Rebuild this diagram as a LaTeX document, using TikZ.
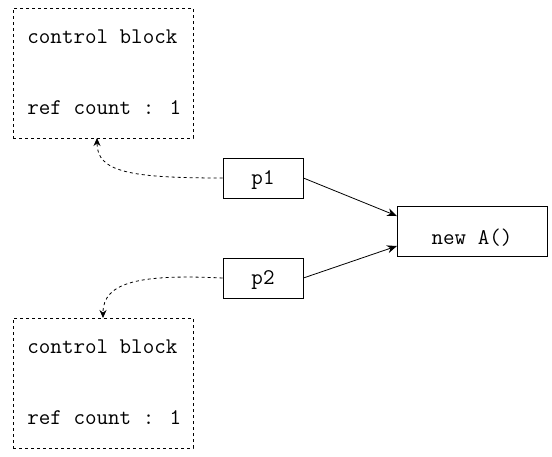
\documentclass[tikz,border=0pt]{standalone}
\usepackage{fontspec}
\usetikzlibrary{arrows.meta,positioning}
\tikzset{
  every picture/.style = {
    font=\ttfamily\fontsize{22.4}{24}\selectfont
  },
  block/.style={
    shape = rectangle,
    draw,
    dash pattern=on 3pt off 3pt,
    minimum width = 180pt,
    minimum height = 130pt,
    inner sep = 0pt
  },
  ptrbox/.style={
    shape = rectangle,
    draw,
    minimum width = 80pt,
    minimum height = 40pt,
    inner sep = 0pt
  },
  objbox/.style={
    shape = rectangle,
    draw,
    minimum width = 150pt,
    minimum height = 50pt,
    inner sep = 0pt
  },
  field/.style={
    anchor = west,
    inner sep = 0pt
  },
  owns/.style={
    -{Stealth[length=10pt,width=8pt]},
    line width = 0.8pt
  },
  refs/.style={
    -{Stealth[length=8pt,width=7pt]},
    line width = 0.8pt,
    dash pattern=on 3pt off 3pt
  }
}

\begin{document}
\begin{tikzpicture}[x=1pt,y=-1pt,line width=0.8pt]
    \useasboundingbox (0,0) rectangle (552,456);

    % control blocks
    \node[block] (cb1) at (103,73) {};
    \node[field] (cb1name) at (27,37) {control block};
    \node[field] (cb1count) at (27,108) {ref count : 1};

    \node[block] (cb2) at (103,383) {};
    \node[field] (cb2name) at (27,347) {control block};
    \node[field] (cb2count) at (27,418) {ref count : 1};

    % shared pointers
    \node[ptrbox] (p1) at (263,178) {};
    \node (p1label) at (263,180) {p1};
    \node[ptrbox] (p2) at (263,278) {};
    \node (p2label) at (263,280) {p2};

    \node[objbox] (obj) at (472,231) {};
    \node (objlabel) at (472,238) {new A()};

    \coordinate (objin1) at (397,216);
    \coordinate (objin2) at (397,246);
    \coordinate (cb1in) at (97,138);
    \coordinate (cb2in) at (103,318);

    \draw[owns] (p1.east) -- (objin1);
    \draw[owns] (p2.east) -- (objin2);

    \draw[refs] (p1.west) .. controls (130,178) and (97,172) .. (cb1in);
    \draw[refs] (p2.west) .. controls (140,274) and (103,282) .. (cb2in);
\end{tikzpicture}
\end{document}
